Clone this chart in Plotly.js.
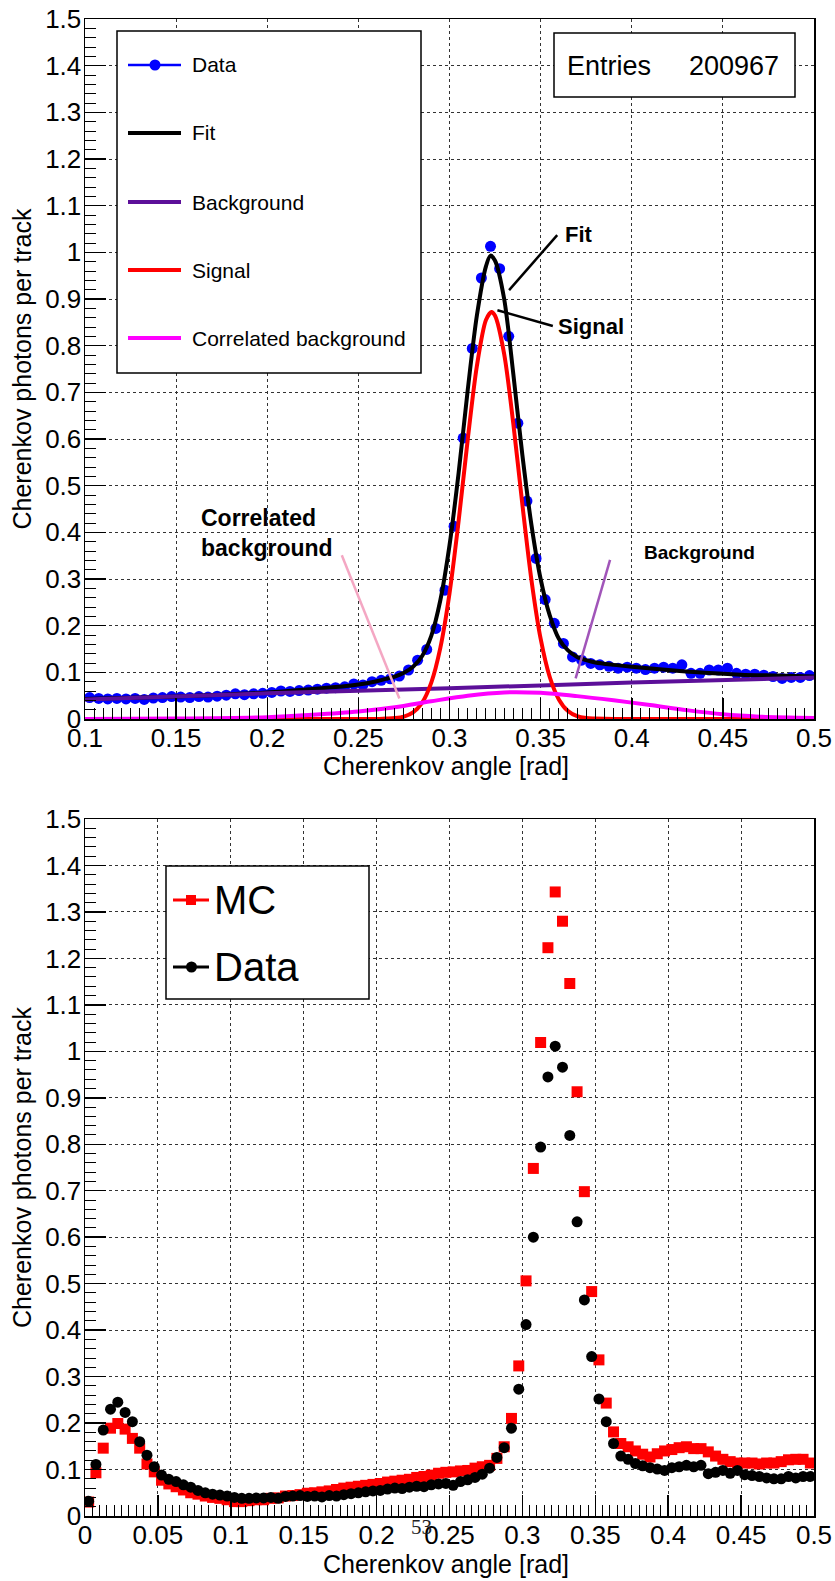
<!DOCTYPE html>
<html>
<head>
<meta charset="utf-8">
<script src="https://cdn.plot.ly/plotly-3.0.1.min.js"></script>
<style>
  html, body { margin: 0; padding: 0; background: #fff; }
  #chart { width: 835px; height: 1581px; }
</style>
</head>
<body>
<div id="chart"></div>
<script>
// ---------------- data ----------------
const binWidth = 0.005;

// Top panel: measured photons per track (bins 0.1 .. 0.5)
const dataTop = [
  0.046,0.044,0.043,0.044,0.043,0.044,0.042,0.045,0.046,0.048,
  0.047,0.046,0.048,0.047,0.049,0.051,0.054,0.052,0.054,0.055,
  0.057,0.060,0.059,0.061,0.062,0.064,0.066,0.067,0.069,0.075,
  0.073,0.080,0.083,0.086,0.092,0.105,0.126,0.149,0.194,0.276,
  0.413,0.602,0.794,0.945,1.013,0.965,0.820,0.634,0.467,0.344,
  0.256,0.205,0.162,0.133,0.126,0.119,0.116,0.113,0.109,0.111,
  0.109,0.106,0.109,0.111,0.109,0.116,0.098,0.098,0.105,0.105,
  0.109,0.098,0.096,0.096,0.094,0.091,0.087,0.089,0.089,0.093
];
const topStart = 0.1;

// Fit curve
const fitX = [0.1,0.15,0.2,0.25,0.26,0.265,0.27,0.275,0.28,0.285,0.29,0.295,0.3,0.305,0.31,0.315,0.32,0.3225,0.325,0.33,0.335,0.34,0.345,0.35,0.355,0.36,0.365,0.37,0.375,0.38,0.39,0.4,0.42,0.44,0.46,0.48,0.5];
const fitY = [0.043,0.048,0.057,0.074,0.081,0.086,0.091,0.099,0.112,0.135,0.178,0.255,0.372,0.527,0.705,0.864,0.970,0.993,0.982,0.900,0.740,0.565,0.415,0.300,0.222,0.172,0.147,0.133,0.126,0.121,0.116,0.112,0.105,0.099,0.095,0.093,0.091];

// Background component
const bgX = [0.1,0.2,0.3,0.4,0.5];
const bgY = [0.042,0.055,0.066,0.078,0.089];

// Signal component
const sigX = [0.1,0.25,0.26,0.265,0.27,0.275,0.28,0.285,0.29,0.295,0.3,0.305,0.31,0.315,0.32,0.323,0.325,0.33,0.335,0.34,0.345,0.35,0.355,0.36,0.365,0.37,0.375,0.38,0.39,0.4,0.5];
const sigY = [0,0,0,0.001,0.002,0.005,0.014,0.035,0.078,0.153,0.269,0.424,0.599,0.756,0.855,0.872,0.864,0.782,0.633,0.459,0.297,0.172,0.090,0.042,0.017,0.006,0.002,0.001,0,0,0];

// Correlated background component
const cbX = [0.1,0.15,0.2,0.225,0.25,0.27,0.29,0.31,0.33,0.35,0.37,0.39,0.41,0.43,0.45,0.47,0.5];
const cbY = [0,0.001,0.004,0.009,0.016,0.025,0.038,0.050,0.057,0.056,0.049,0.040,0.030,0.019,0.010,0.005,0.002];

// Bottom panel (bins 0 .. 0.5)
const dataBottom = [
  0.032,0.111,0.185,0.230,0.245,0.223,0.203,0.160,0.131,0.106,
  0.088,0.079,0.074,0.067,0.062,0.055,0.050,0.047,0.045,0.043,
  0.040,0.038,0.038,0.039,0.039,0.040,0.038,0.042,0.043,0.044,
  0.042,0.043,0.041,0.044,0.043,0.046,0.048,0.050,0.052,0.054,
  0.055,0.058,0.060,0.059,0.062,0.064,0.063,0.067,0.069,0.070,
  0.066,0.074,0.078,0.083,0.090,0.103,0.126,0.147,0.189,0.273,
  0.412,0.600,0.794,0.945,1.011,0.966,0.819,0.633,0.465,0.343,
  0.252,0.203,0.156,0.129,0.122,0.113,0.108,0.104,0.101,0.098,
  0.104,0.106,0.109,0.106,0.109,0.091,0.094,0.098,0.092,0.098,
  0.089,0.087,0.085,0.082,0.080,0.080,0.085,0.082,0.085,0.085
];
const mcBottom = [
  0.030,0.093,0.146,0.189,0.199,0.187,0.167,0.146,0.112,0.095,
  0.077,0.069,0.063,0.056,0.050,0.047,0.043,0.040,0.038,0.035,
  0.031,0.031,0.033,0.035,0.035,0.038,0.039,0.043,0.044,0.046,
  0.049,0.050,0.052,0.054,0.057,0.060,0.062,0.064,0.066,0.068,
  0.070,0.073,0.075,0.077,0.079,0.083,0.085,0.088,0.092,0.094,
  0.095,0.097,0.098,0.103,0.106,0.109,0.124,0.149,0.210,0.323,
  0.506,0.748,1.019,1.223,1.343,1.280,1.146,0.913,0.698,0.483,
  0.336,0.243,0.181,0.156,0.149,0.140,0.133,0.127,0.134,0.140,
  0.143,0.147,0.149,0.145,0.145,0.138,0.129,0.122,0.117,0.114,
  0.114,0.114,0.112,0.114,0.114,0.117,0.121,0.122,0.122,0.114
];

const topLegendLabels = ['Data','Fit','Background','Signal','Correlated background'];
const bottomLegendLabels = ['MC','Data'];
const entriesLabel = 'Entries';
const entriesValue = '200967';
const xTitle = 'Cherenkov angle [rad]';
const yTitle = 'Cherenkov photons per track';

// ---------------- geometry helpers (pixel -> paper) ----------------
const W = 835, H = 1581;
const L = 85, R = 814, T = 19, B = 1516;
const px = p => (p - L) / (R - L);
const py = p => (B - p) / (B - T);

const xTop = dataTop.map((_, i) => topStart + (i + 0.5) * binWidth);
const xBottom = dataBottom.map((_, i) => (i + 0.5) * binWidth);

const FONT = 'Liberation Sans, Arial, sans-serif';
const BLUE = '#0000ff', RED = '#ff0000', PURPLE = '#5c0f99', MAGENTA = '#ff00ff';

const traces = [
  {x: xTop, y: dataTop, type: 'scatter', mode: 'markers', xaxis: 'x', yaxis: 'y',
   marker: {color: BLUE, size: 11, symbol: 'circle'}, name: 'Data'},
  {x: fitX, y: fitY, type: 'scatter', mode: 'lines', xaxis: 'x', yaxis: 'y',
   line: {color: '#000', width: 4, shape: 'spline', smoothing: 0.8}, name: 'Fit'},
  {x: bgX, y: bgY, type: 'scatter', mode: 'lines', xaxis: 'x', yaxis: 'y',
   line: {color: PURPLE, width: 4, shape: 'spline', smoothing: 0.8}, name: 'Background'},
  {x: sigX, y: sigY, type: 'scatter', mode: 'lines', xaxis: 'x', yaxis: 'y',
   line: {color: RED, width: 4, shape: 'spline', smoothing: 0.8}, name: 'Signal'},
  {x: cbX, y: cbY, type: 'scatter', mode: 'lines', xaxis: 'x', yaxis: 'y',
   line: {color: MAGENTA, width: 4, shape: 'spline', smoothing: 0.8}, name: 'Correlated background'},
  {x: xBottom, y: mcBottom, type: 'scatter', mode: 'markers', xaxis: 'x2', yaxis: 'y2',
   marker: {color: RED, size: 11, symbol: 'square'}, name: 'MC'},
  {x: xBottom, y: dataBottom, type: 'scatter', mode: 'markers', xaxis: 'x2', yaxis: 'y2',
   marker: {color: '#000', size: 11, symbol: 'circle'}, name: 'Data'}
];

const TICKFONT = {size: 26, family: FONT, color: '#000'};
const TITLEFONT = {size: 25, family: FONT, color: '#000'};

function axisBase(extra) {
  return Object.assign({
    showline: true, linecolor: '#000', linewidth: 1.5, mirror: true,
    ticks: 'inside', ticklen: 21, tickwidth: 1.5, tickcolor: '#000',
    showgrid: true, gridcolor: '#333', griddash: 'dot', gridwidth: 1,
    zeroline: false, fixedrange: true,
    tickfont: TICKFONT
  }, extra);
}
const minorX = {ticks: 'inside', ticklen: 11, tickwidth: 1, tickcolor: '#000', showgrid: false, dtick: 0.005};
const minorY = {ticks: 'inside', ticklen: 11, tickwidth: 1, tickcolor: '#000', showgrid: false, dtick: 0.02};

const topDomainBottom = py(719);
const botDomainTop = py(819);

const layout = {
  width: W, height: H, autosize: false,
  margin: {l: L, r: W - R, t: T, b: H - B, pad: 0},
  paper_bgcolor: '#fff', plot_bgcolor: '#fff',
  showlegend: false, hovermode: false,
  font: {family: FONT, color: '#000'},
  xaxis: axisBase({anchor: 'y', domain: [0, 1], range: [0.1, 0.5], dtick: 0.05, tick0: 0, minor: minorX,
    ticklabelstandoff: -5}),
  yaxis: axisBase({anchor: 'x', domain: [topDomainBottom, 1], range: [0, 1.5], dtick: 0.1, tick0: 0, minor: minorY,
    ticklabelstandoff: -3,
    title: {text: yTitle, font: TITLEFONT, standoff: 6}}),
  xaxis2: axisBase({anchor: 'y2', domain: [0, 1], range: [0, 0.5], dtick: 0.05, tick0: 0, minor: minorX,
    ticklabelstandoff: -5}),
  yaxis2: axisBase({anchor: 'x2', domain: [0, botDomainTop], range: [0, 1.5], dtick: 0.1, tick0: 0, minor: minorY,
    ticklabelstandoff: -3,
    title: {text: yTitle, font: TITLEFONT, standoff: 6}}),
  shapes: [],
  annotations: []
};

const S = layout.shapes, A = layout.annotations;

// ---- x-axis titles ----
A.push({xref: 'paper', yref: 'paper', x: px(446), y: py(766), xanchor: 'center', yanchor: 'middle',
  text: xTitle, showarrow: false, font: TITLEFONT});
A.push({xref: 'paper', yref: 'paper', x: px(446), y: py(1564), xanchor: 'center', yanchor: 'middle',
  text: xTitle, showarrow: false, font: TITLEFONT});

// ---- Top legend (drawn) ----
S.push({type: 'rect', xref: 'paper', yref: 'paper', x0: px(117), x1: px(421), y0: py(373), y1: py(31),
  line: {color: '#000', width: 1.5}, fillcolor: '#fff', layer: 'above'});
const topLegendColors = [BLUE, '#000', PURPLE, RED, MAGENTA];
const topLegendY = [65, 133, 202, 270, 338];
topLegendLabels.forEach((lab, i) => {
  const yy = topLegendY[i];
  S.push({type: 'line', xref: 'paper', yref: 'paper', x0: px(128), x1: px(181), y0: py(yy), y1: py(yy),
    line: {color: topLegendColors[i], width: i === 0 ? 2.5 : 4}, layer: 'above'});
  A.push({xref: 'paper', yref: 'paper', x: px(190), y: py(yy), xanchor: 'left', yanchor: 'middle',
    text: lab, showarrow: false, font: {size: 21, family: FONT, color: '#000'}});
});
S.push({type: 'circle', xref: 'paper', yref: 'paper', x0: px(149.5), x1: px(160.5), y0: py(70.5), y1: py(59.5),
  fillcolor: BLUE, line: {color: BLUE, width: 0}, layer: 'above'});

// ---- Entries box ----
S.push({type: 'rect', xref: 'paper', yref: 'paper', x0: px(554), x1: px(795), y0: py(97), y1: py(33),
  line: {color: '#000', width: 1.5}, fillcolor: '#fff', layer: 'above'});
A.push({xref: 'paper', yref: 'paper', x: px(565), y: py(66), xanchor: 'left', yanchor: 'middle',
  text: entriesLabel, showarrow: false, font: {size: 27, family: FONT, color: '#000'}});
A.push({xref: 'paper', yref: 'paper', x: px(781), y: py(66), xanchor: 'right', yanchor: 'middle',
  text: entriesValue, showarrow: false, font: {size: 27, family: FONT, color: '#000'}});

// ---- Top annotations with pointer lines (data coords) ----
const bold = s => ({size: s, family: FONT, color: '#000', weight: 'bold'});
S.push({type: 'line', xref: 'x', yref: 'y', x0: 0.3591, y0: 1.037, x1: 0.3327, y1: 0.919, line: {color: '#000', width: 2.5}});
A.push({xref: 'x', yref: 'y', x: 0.3625, y: 1.039, xanchor: 'left', yanchor: 'middle', text: '<b>Fit</b>', showarrow: false, font: bold(22)});
S.push({type: 'line', xref: 'x', yref: 'y', x0: 0.3567, y0: 0.842, x1: 0.3263, y1: 0.876, line: {color: '#000', width: 2.5}});
A.push({xref: 'x', yref: 'y', x: 0.3585, y: 0.842, xanchor: 'left', yanchor: 'middle', text: '<b>Signal</b>', showarrow: false, font: bold(22)});
S.push({type: 'line', xref: 'x', yref: 'y', x0: 0.3881, y0: 0.341, x1: 0.3692, y1: 0.087, line: {color: '#a155b9', width: 2.5}});
A.push({xref: 'x', yref: 'y', x: 0.4055, y: 0.356, xanchor: 'left', yanchor: 'middle', text: '<b>Background</b>', showarrow: false, font: bold(19)});
S.push({type: 'line', xref: 'x', yref: 'y', x0: 0.2409, y0: 0.351, x1: 0.2725, y1: 0.044, line: {color: '#f4a7c3', width: 2.5}});
A.push({xref: 'x', yref: 'y', x: 0.1625, y: 0.3985, xanchor: 'left', yanchor: 'middle', align: 'left',
  text: '<b>Correlated</b><br><b>background</b>', showarrow: false, font: bold(23)});

// ---- Bottom legend (drawn) ----
S.push({type: 'rect', xref: 'paper', yref: 'paper', x0: px(166), x1: px(369), y0: py(999), y1: py(866),
  line: {color: '#000', width: 1.5}, fillcolor: '#fff', layer: 'above'});
const botLegendColors = [RED, '#000'];
const botLegendY = [900, 967];
bottomLegendLabels.forEach((lab, i) => {
  const yy = botLegendY[i];
  S.push({type: 'line', xref: 'paper', yref: 'paper', x0: px(173), x1: px(209), y0: py(yy), y1: py(yy),
    line: {color: botLegendColors[i], width: 3}, layer: 'above'});
  A.push({xref: 'paper', yref: 'paper', x: px(212), y: py(yy), xanchor: 'left', yanchor: 'middle',
    text: lab, showarrow: false, font: {size: 40, family: FONT, color: '#000'}});
});
S.push({type: 'rect', xref: 'paper', yref: 'paper', x0: px(186), x1: px(196), y0: py(905), y1: py(895),
  fillcolor: RED, line: {color: RED, width: 0}, layer: 'above'});
S.push({type: 'circle', xref: 'paper', yref: 'paper', x0: px(186), x1: px(197), y0: py(972.5), y1: py(961.5),
  fillcolor: '#000', line: {color: '#000', width: 0}, layer: 'above'});

// ---- page number artefact ----
A.push({xref: 'paper', yref: 'paper', x: px(421), y: py(1527), xanchor: 'center', yanchor: 'middle',
  text: '53', showarrow: false, font: {size: 21, family: 'Liberation Serif, serif', color: '#222'}});

Plotly.newPlot('chart', traces, layout, {displayModeBar: false, staticPlot: true});
</script>
</body>
</html>
